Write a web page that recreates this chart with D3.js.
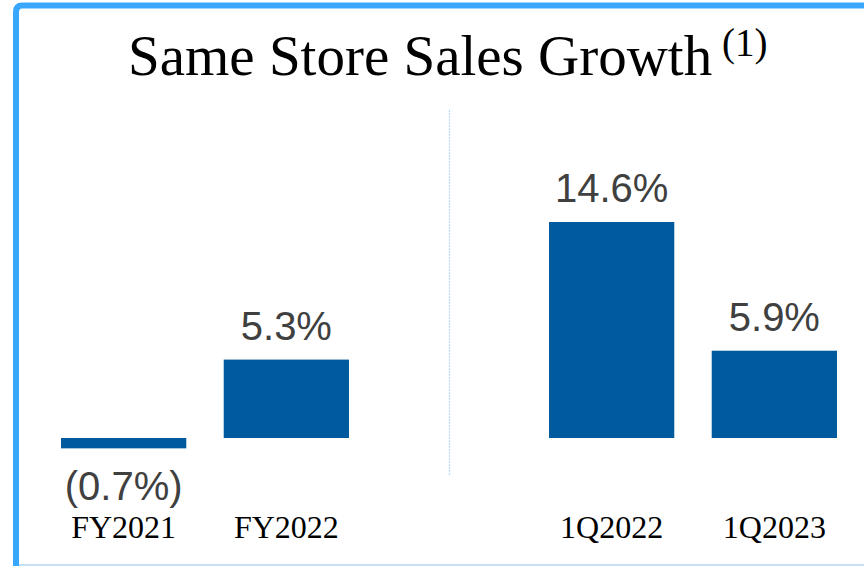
<!DOCTYPE html>
<html>
<head>
<meta charset="utf-8">
<script src="https://cdn.jsdelivr.net/npm/d3@7"></script>
<style>
  html, body { margin: 0; padding: 0; background: #fff; }
  svg { display: block; }
</style>
</head>
<body>
<script>
// data
const fyLabels = ["FY2021", "FY2022"];
const fyValues = [-0.7, 5.3];
const qLabels = ["1Q2022", "1Q2023"];
const qValues = [14.6, 5.9];
const valueText = ["(0.7%)", "5.3%", "14.6%", "5.9%"];

const width = 864, height = 566;
const barColor = "#005a9e";

const svg = d3.select("body").append("svg")
  .attr("width", width)
  .attr("height", height);

// frame: thick blue on left/top, thin light line at bottom
svg.append("path")
  .attr("d", "M16,566 L16,12 Q16,5.5 22,5.5 L864,5.5")
  .attr("fill", "none")
  .attr("stroke", "#3aa7ff")
  .attr("stroke-width", 6);
svg.append("line")
  .attr("x1", 19).attr("x2", width)
  .attr("y1", 565).attr("y2", 565)
  .attr("stroke", "#b3d7f5")
  .attr("stroke-width", 1.5);

// title
svg.append("text")
  .attr("x", 128).attr("y", 75)
  .attr("font-family", "'Liberation Serif', 'Times New Roman', serif")
  .attr("font-size", 57)
  .attr("fill", "#000")
  .text("Same Store Sales Growth");
svg.append("text")
  .attr("x", 722).attr("y", 56)
  .attr("font-family", "'Liberation Serif', 'Times New Roman', serif")
  .attr("font-size", 39)
  .attr("fill", "#000")
  .text("(1)");

// divider between the two groups
svg.append("line")
  .attr("x1", 449.5).attr("x2", 449.5)
  .attr("y1", 110).attr("y2", 475)
  .attr("stroke", "#bcd9f4")
  .attr("stroke-width", 1.2)
  .attr("stroke-dasharray", "2,1");

const y = d3.scaleLinear()
  .domain([0, 14.6])
  .range([438, 222]);

const xFY = d3.scaleBand().domain(fyLabels).range([61, 349]).paddingInner(0.23);
const xQ = d3.scaleBand().domain(qLabels).range([549, 837]).paddingInner(0.23);

const data = [];
fyLabels.forEach((c, i) => data.push({ cat: c, value: fyValues[i], x: xFY }));
qLabels.forEach((c, i) => data.push({ cat: c, value: qValues[i], x: xQ }));
data.forEach((d, i) => d.label = valueText[i]);

const chartGroup = svg.append("g");

chartGroup.selectAll("rect.bar")
  .data(data)
  .enter().append("rect")
  .attr("class", "bar")
  .attr("x", d => d.x(d.cat))
  .attr("width", d => d.x.bandwidth())
  .attr("y", d => Math.min(y(0), y(d.value)))
  .attr("height", d => Math.abs(y(d.value) - y(0)))
  .attr("fill", barColor);

chartGroup.selectAll("text.val")
  .data(data)
  .enter().append("text")
  .attr("class", "val")
  .attr("x", d => d.x(d.cat) + d.x.bandwidth() / 2)
  .attr("y", d => d.value >= 0 ? y(d.value) - 20 : y(d.value) + 52)
  .attr("text-anchor", "middle")
  .attr("font-family", "'Liberation Sans', Arial, sans-serif")
  .attr("font-size", 40)
  .attr("fill", "#404040")
  .text(d => d.label);

chartGroup.selectAll("text.cat")
  .data(data)
  .enter().append("text")
  .attr("class", "cat")
  .attr("x", d => d.x(d.cat) + d.x.bandwidth() / 2)
  .attr("y", 538)
  .attr("text-anchor", "middle")
  .attr("font-family", "'Liberation Serif', 'Times New Roman', serif")
  .attr("font-size", 32)
  .attr("fill", "#000")
  .text(d => d.cat);
</script>
</body>
</html>
